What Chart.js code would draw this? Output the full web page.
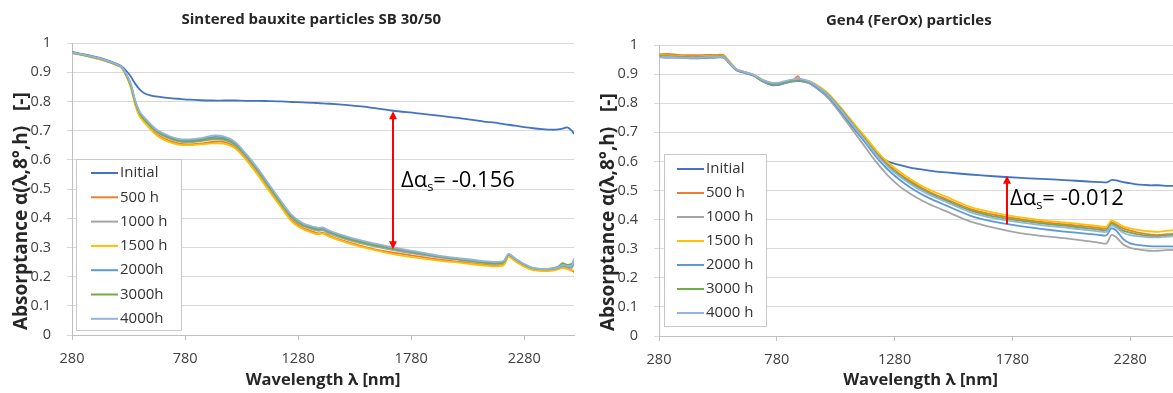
<!DOCTYPE html>
<html>
<head>
<meta charset="utf-8">
<script src="https://cdn.jsdelivr.net/npm/chart.js@4/dist/chart.umd.min.js"></script>
<style>
  html, body { margin: 0; padding: 0; background: #fff; width: 1173px; height: 393px; overflow: hidden; }
  #wrapSB { position: absolute; left: 0; top: 0; width: 585px; height: 393px; }
  #wrapG4 { position: absolute; left: 585px; top: 0; width: 608px; height: 393px; }
</style>
</head>
<body>
<div id="wrapSB"><canvas id="chartSB" width="585" height="393"></canvas></div>
<div id="wrapG4"><canvas id="chartG4" width="608" height="393"></canvas></div>
<script>
const FONT = "'Open Sans', 'DejaVu Sans', sans-serif";

// tick labels shared by both charts
const xTicks = [280, 780, 1280, 1780, 2280];

// ---- Sintered bauxite SB 30/50 ----
const wlSB = [280, 320, 360, 400, 440, 480, 500, 520, 540, 560, 580, 600, 630, 660, 700, 750, 800, 850, 900, 950,
  1000, 1050, 1100, 1150, 1200, 1250, 1300, 1350, 1370, 1390, 1420, 1500, 1600, 1700, 1800, 1900, 2000, 2100, 2150,
  2190, 2210, 2240, 2280, 2320, 2360, 2400, 2430, 2450, 2470, 2490, 2500];
const sbInitial = [.970, .963, .957, .950, .940, .928, .920, .905, .885, .860, .840, .828, .820, .816, .812, .809, .806, .804, .803, .803,
  .803, .802, .802, .801, .800, .798, .797, .795, .794, .793, .792, .787, .779, .768, .760, .751, .742, .731, .727,
  .722, .720, .717, .712, .708, .705, .703, .704, .707, .711, .700, .688];
const sb500 = [.966, .960, .953, .946, .936, .924, .916, .888, .850, .790, .750, .731, .705, .685, .668, .656, .653, .656, .661, .661,
  .645, .605, .556, .501, .447, .396, .367, .352, .348, .350, .339, .318, .297, .282, .270, .259, .250, .241, .238,
  .243, .270, .255, .236, .224, .221, .222, .227, .232, .228, .222, .215];
const sb1000 = [.966, .960, .953, .946, .936, .924, .916, .890, .853, .794, .755, .736, .711, .692, .676, .663, .660, .664, .669, .668,
  .651, .611, .562, .507, .453, .402, .374, .360, .357, .358, .346, .326, .306, .291, .278, .266, .256, .246, .243,
  .247, .273, .258, .239, .226, .223, .224, .229, .236, .232, .230, .245];
const sb1500 = [.965, .959, .952, .945, .935, .923, .915, .887, .848, .787, .747, .728, .702, .681, .664, .652, .650, .653, .656, .655,
  .640, .600, .550, .495, .442, .390, .363, .348, .345, .347, .336, .315, .294, .277, .265, .255, .247, .238, .235,
  .240, .268, .253, .234, .222, .219, .220, .225, .230, .226, .220, .222];
const sb2000 = [.967, .961, .954, .947, .937, .925, .917, .892, .857, .799, .760, .741, .716, .697, .681, .668, .666, .670, .678, .676,
  .658, .617, .569, .514, .460, .409, .380, .366, .363, .364, .353, .332, .312, .296, .282, .269, .259, .250, .247,
  .251, .276, .260, .241, .228, .225, .226, .231, .238, .234, .236, .255];
const sb3000 = [.967, .961, .954, .947, .937, .925, .917, .891, .855, .797, .758, .739, .714, .695, .679, .666, .663, .667, .673, .672,
  .655, .615, .566, .511, .457, .406, .378, .365, .362, .363, .351, .330, .311, .296, .283, .270, .259, .249, .246,
  .250, .276, .261, .242, .229, .226, .228, .234, .246, .240, .244, .252];
const sb4000 = [.968, .962, .955, .948, .938, .926, .918, .894, .860, .802, .764, .745, .720, .700, .685, .672, .670, .674, .683, .680,
  .662, .620, .572, .517, .463, .412, .383, .370, .367, .368, .357, .336, .316, .300, .286, .272, .262, .253, .250,
  .254, .278, .262, .243, .229, .226, .227, .232, .240, .236, .238, .262];
const sbLabels = ['Initial', '500 h', '1000 h', '1500 h', '2000h', '3000h', '4000h'];

// ---- Gen4 (FerOx) ----
const wlG4 = [280, 320, 360, 400, 440, 480, 520, 555, 580, 610, 640, 680, 720, 760, 790, 820, 850, 870, 880, 920,
  960, 1000, 1050, 1100, 1150, 1200, 1250, 1300, 1350, 1400, 1450, 1500, 1600, 1700, 1800, 1900, 2000, 2100, 2150,
  2180, 2200, 2220, 2250, 2280, 2320, 2360, 2400, 2440, 2480, 2500];
const g4Initial = [.958, .957, .957, .955, .954, .956, .957, .956, .935, .912, .905, .895, .875, .862, .863, .870, .875, .876, .876, .868,
  .845, .818, .770, .720, .672, .627, .600, .588, .578, .572, .566, .562, .555, .549, .544, .540, .536, .531, .529,
  .528, .536, .535, .529, .525, .520, .518, .518, .516, .516, .515];
const g4500 = [.968, .969, .966, .965, .965, .966, .966, .965, .942, .916, .908, .897, .879, .866, .868, .874, .880, .893, .882, .874,
  .855, .830, .784, .734, .684, .633, .591, .558, .531, .507, .487, .470, .437, .417, .403, .392, .384, .376, .371,
  .370, .391, .384, .370, .362, .354, .349, .347, .350, .352, .355];
const g41000 = [.960, .960, .958, .957, .957, .958, .959, .958, .937, .914, .906, .895, .876, .864, .865, .871, .876, .878, .878, .868,
  .846, .816, .765, .710, .655, .600, .553, .515, .487, .464, .445, .428, .394, .372, .355, .344, .336, .326, .320,
  .318, .347, .340, .315, .303, .297, .293, .293, .296, .295, .294];
const g41500 = [.964, .964, .962, .960, .960, .962, .963, .962, .940, .916, .908, .898, .880, .867, .868, .875, .880, .882, .882, .875,
  .857, .832, .787, .738, .690, .640, .598, .565, .538, .514, .495, .478, .444, .424, .409, .398, .390, .382, .377,
  .376, .397, .390, .377, .370, .364, .360, .358, .362, .365, .368];
const g42000 = [.959, .959, .958, .957, .957, .958, .959, .958, .937, .914, .906, .896, .877, .865, .866, .872, .877, .879, .879, .870,
  .850, .823, .775, .722, .670, .617, .573, .538, .509, .485, .465, .448, .414, .393, .379, .368, .359, .351, .347,
  .346, .370, .363, .334, .318, .312, .309, .308, .308, .307, .306];
const g43000 = [.962, .962, .960, .958, .958, .960, .961, .960, .938, .915, .907, .897, .878, .866, .867, .873, .878, .880, .880, .872,
  .853, .828, .782, .731, .680, .629, .587, .553, .526, .502, .482, .465, .432, .411, .398, .387, .379, .370, .365,
  .364, .386, .379, .362, .355, .348, .344, .343, .346, .349, .352];
const g44000 = [.958, .959, .957, .956, .956, .958, .959, .958, .937, .915, .908, .898, .880, .870, .871, .877, .882, .884, .884, .874,
  .853, .826, .779, .728, .677, .625, .583, .549, .521, .497, .477, .460, .426, .405, .392, .381, .373, .364, .359,
  .358, .380, .373, .355, .347, .342, .339, .339, .342, .343, .345];
const g4Labels = ['Initial', '500 h', '1000 h', '1500 h', '2000 h', '3000 h', '4000 h'];

const colors = ['#4472C4', '#ED7D31', '#A5A5A5', '#FFC000', '#5B9BD5', '#70AD47', '#95B3E0'];

function makeDatasets(wl, series, labels) {
  return series.map((vals, i) => ({
    label: labels[i],
    data: wl.map((w, j) => ({ x: w, y: vals[j] })),
    borderColor: colors[i],
    backgroundColor: colors[i],
    borderWidth: 1.8,
    pointRadius: 0,
    tension: 0.25,
    order: series.length - i
  }));
}

// arrow, delta label and the boxed legend
const overlay = {
  id: 'overlay',
  afterDatasetsDraw(chart, args, o) {
    const { ctx, scales: { x, y } } = chart;
    ctx.save();
    const ax = Math.round(x.getPixelForValue(o.arrowX));
    const y1 = y.getPixelForValue(o.arrowTop);
    const y2 = y.getPixelForValue(o.arrowBottom);
    const head = 8;
    ctx.strokeStyle = '#FF0000';
    ctx.fillStyle = '#FF0000';
    ctx.lineWidth = 2;
    ctx.beginPath();
    ctx.moveTo(ax, y1 + head - 1);
    ctx.lineTo(ax, o.headBottom ? y2 - head + 1 : y2);
    ctx.stroke();
    ctx.beginPath();
    ctx.moveTo(ax, y1); ctx.lineTo(ax - 4, y1 + head); ctx.lineTo(ax + 4, y1 + head); ctx.closePath(); ctx.fill();
    if (o.headBottom) {
      ctx.beginPath();
      ctx.moveTo(ax, y2); ctx.lineTo(ax - 4, y2 - head); ctx.lineTo(ax + 4, y2 - head); ctx.closePath(); ctx.fill();
    }

    ctx.fillStyle = '#000';
    ctx.textBaseline = 'middle';
    ctx.textAlign = 'left';
    let tx = ax + o.labelGap;
    const ty = y.getPixelForValue(o.labelY);
    ctx.font = '22px ' + FONT;
    ctx.fillText('Δα', tx, ty);
    tx += ctx.measureText('Δα').width;
    ctx.font = '13px ' + FONT;
    ctx.fillText('s', tx, ty + 7);
    tx += ctx.measureText('s').width;
    ctx.font = '22px ' + FONT;
    ctx.fillText(o.labelText, tx, ty);

    const lg = o.legend;
    ctx.fillStyle = '#fff';
    ctx.fillRect(lg.left, lg.top, lg.right - lg.left, lg.bottom - lg.top);
    ctx.strokeStyle = '#C8C8C8';
    ctx.lineWidth = 1;
    ctx.strokeRect(lg.left + 0.5, lg.top + 0.5, lg.right - lg.left, lg.bottom - lg.top);
    ctx.font = '15px ' + FONT;
    chart.data.datasets.forEach((ds, i) => {
      const cy = lg.first + i * lg.step;
      ctx.strokeStyle = ds.borderColor;
      ctx.lineWidth = 2;
      ctx.beginPath();
      ctx.moveTo(lg.swatchX, cy);
      ctx.lineTo(lg.swatchX + lg.swatchW, cy);
      ctx.stroke();
      ctx.fillStyle = '#333';
      ctx.fillText(ds.label, lg.swatchX + lg.swatchW + 2, cy);
    });
    ctx.restore();
  }
};

function makeOptions(c) {
  return {
    responsive: false,
    animation: false,
    events: [],
    layout: { padding: { left: 0, right: c.padRight, top: 0, bottom: 0 } },
    plugins: {
      legend: { display: false },
      tooltip: { enabled: false },
      title: {
        // trailing spaces nudge the centred title a little to the left, like the original
        display: true, text: c.title + '      ', fullSize: false, color: '#262626',
        font: { family: FONT, size: 15, weight: 'bold' },
        padding: { top: c.titleTop, bottom: c.titleBottom }
      },
      overlay: c.overlay
    },
    scales: {
      x: {
        type: 'linear', min: 280, max: 2500,
        afterBuildTicks: s => { s.ticks = xTicks.map(v => ({ value: v })); },
        afterFit: s => { s.height = c.xHeight; },
        border: { color: '#BFBFBF' },
        grid: { drawOnChartArea: false, drawTicks: true, tickLength: 5, color: '#BFBFBF' },
        ticks: { color: '#404040', font: { family: FONT, size: 14.5 }, padding: 10, maxRotation: 0, autoSkip: false,
          callback: v => String(v) },
        title: { display: true, text: 'Wavelength λ [nm]', color: '#262626',
          font: { family: FONT, size: 16.5, weight: 'bold' }, padding: { top: 0, bottom: 3 } }
      },
      y: {
        min: 0, max: 1,
        afterFit: s => { s.width = c.yWidth; },
        border: { color: '#BFBFBF' },
        grid: { color: '#D9D9D9', tickLength: 5 },
        ticks: { stepSize: 0.1, color: '#404040', font: { family: FONT, size: 14.5 }, padding: 16,
          callback: v => String(Math.round(v * 10) / 10) },
        title: { display: true, text: ' Absorptance α(λ,8°,h)   [-]', align: 'start', color: '#262626',
          font: { family: FONT, size: 19, weight: 'bold' }, padding: { top: c.yTitlePad, bottom: 0 } }
      }
    }
  };
}

new Chart(document.getElementById('chartSB'), {
  type: 'line',
  data: { datasets: makeDatasets(wlSB, [sbInitial, sb500, sb1000, sb1500, sb2000, sb3000, sb4000], sbLabels) },
  options: makeOptions({
    title: 'Sintered bauxite particles SB 30/50',
    padRight: 11, yWidth: 72, xHeight: 58, titleTop: 11, titleBottom: 14, yTitlePad: 10,
    overlay: {
      arrowX: 1700, arrowTop: 0.766, arrowBottom: 0.294, headBottom: true,
      labelGap: 8, labelY: 0.529, labelText: '= -0.156',
      legend: { left: 76, right: 181, top: 159, bottom: 330, first: 173, step: 24.3, swatchX: 91, swatchW: 27 }
    }
  }),
  plugins: [overlay]
});

new Chart(document.getElementById('chartG4'), {
  type: 'line',
  data: { datasets: makeDatasets(wlG4, [g4Initial, g4500, g41000, g41500, g42000, g43000, g44000], g4Labels) },
  options: makeOptions({
    title: 'Gen4 (FerOx) particles',
    padRight: 11, yWidth: 74, xHeight: 57, titleTop: 12, titleBottom: 15, yTitlePad: 12,
    overlay: {
      arrowX: 1756, arrowTop: 0.551, arrowBottom: 0.384, headBottom: false,
      labelGap: 3, labelY: 0.472, labelText: '= -0.012',
      legend: { left: 79, right: 181, top: 154, bottom: 326, first: 169, step: 24, swatchX: 92, swatchW: 27 }
    }
  }),
  plugins: [overlay]
});
</script>
</body>
</html>
